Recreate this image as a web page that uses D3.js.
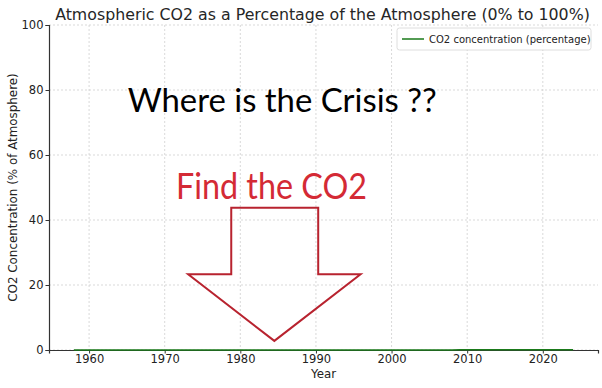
<!DOCTYPE html>
<html>
<head>
<meta charset="utf-8">
<script src="https://cdn.jsdelivr.net/npm/d3@7"></script>
<style>
  html, body { margin: 0; padding: 0; background: #fff; }
  svg { display: block; font-family: "DejaVu Sans", sans-serif; }
</style>
</head>
<body>
<svg id="chart" width="602" height="388"></svg>
<script>
// ---- data ----
const years = [1958,1959,1960,1961,1962,1963,1964,1965,1966,1967,1968,1969,1970,1971,1972,1973,1974,1975,1976,1977,1978,1979,1980,1981,1982,1983,1984,1985,1986,1987,1988,1989,1990,1991,1992,1993,1994,1995,1996,1997,1998,1999,2000,2001,2002,2003,2004,2005,2006,2007,2008,2009,2010,2011,2012,2013,2014,2015,2016,2017,2018,2019,2020,2021,2022,2023,2024];
const co2ppm = [315.2,315.98,316.91,317.64,318.45,318.99,319.62,320.04,321.37,322.18,323.05,324.62,325.68,326.32,327.46,329.68,330.19,331.13,332.03,333.84,335.41,336.84,338.76,340.12,341.48,343.15,344.87,346.35,347.61,349.31,351.69,353.2,354.45,355.7,356.54,357.21,358.96,360.97,362.74,363.88,366.84,368.54,369.71,371.32,373.45,375.98,377.7,379.98,382.09,384.02,385.83,387.64,390.1,391.85,394.06,396.74,398.81,401.01,404.41,406.76,408.72,411.66,414.24,416.45,418.56,421.08,424.6];
const co2Percent = co2ppm.map(v => v / 10000);
const xTicks = [1960,1970,1980,1990,2000,2010,2020];
const yTicks = [0,20,40,60,80,100];
const titleText = "Atmospheric CO2 as a Percentage of the Atmosphere (0% to 100%)";
const xLabel = "Year";
const yLabel = "CO2 Concentration (% of Atmosphere)";
const legendLabel = "CO2 concentration (percentage)";
const annotation1 = "Where is the Crisis ??";
const annotation2 = "Find the CO2";
// arrow outline in data units [year, percent]
const arrowX = [1978.8, 1990.3, 1990.3, 1995.9, 1984.5, 1973.1, 1978.8];
const arrowY = [43.8, 43.8, 23.3, 23.3, 2.8, 23.3, 23.3];
const anno1Pos = [1965.1, 73.3];   // left x, baseline y
const anno2Pos = [1971.5, 46.4];

// ---- layout ----
const svg = d3.select("#chart");
const m = { left: 49, right: 598, top: 25, bottom: 350 };
const span = years[years.length-1] - years[0];
const x = d3.scaleLinear().domain([years[0] - span*0.05, years[years.length-1] + span*0.05]).range([m.left, m.right]);
const y = d3.scaleLinear().domain([0, 100]).range([m.bottom, m.top]);

// grid
svg.append("g").selectAll("line").data(xTicks).join("line")
  .attr("x1", d => x(d)).attr("x2", d => x(d)).attr("y1", m.top).attr("y2", m.bottom)
  .attr("stroke", "#cfcfcf").attr("stroke-width", 0.8).attr("stroke-dasharray", "2,2");
svg.append("g").selectAll("line").data(yTicks).join("line")
  .attr("x1", m.left).attr("x2", m.right).attr("y1", d => y(d)).attr("y2", d => y(d))
  .attr("stroke", "#cfcfcf").attr("stroke-width", 0.8).attr("stroke-dasharray", "2,2");

// axes
const xAxis = svg.append("g").attr("transform", `translate(0,${m.bottom})`)
  .call(d3.axisBottom(x).tickValues(xTicks).tickFormat(d3.format("d")).tickSizeOuter(0).tickSize(3.5).tickPadding(1.5));
const yAxis = svg.append("g").attr("transform", `translate(${m.left},0)`)
  .call(d3.axisLeft(y).tickValues(yTicks).tickSizeOuter(0).tickSize(3.5).tickPadding(2));
[xAxis, yAxis].forEach(a => {
  a.select(".domain").attr("stroke", "#333").attr("stroke-width", 1.2);
  a.selectAll(".tick line").attr("stroke", "#333");
  a.selectAll("text").attr("font-family", "DejaVu Sans, sans-serif").attr("font-size", 11.5).attr("fill", "#222");
});

// line
const line = d3.line().x((d,i) => x(years[i])).y(d => y(d));
svg.append("path").datum(co2Percent).attr("d", line)
  .attr("fill", "none").attr("stroke", "#1a7a1a").attr("stroke-width", 1.5);

// labels
svg.append("text").attr("x", (m.left + m.right)/2 - 1).attr("y", 20).attr("text-anchor", "middle")
  .attr("font-size", 15.8).attr("fill", "#262626").text(titleText);
svg.append("text").attr("x", (m.left + m.right)/2).attr("y", 378).attr("text-anchor", "middle")
  .attr("font-size", 11.8).attr("fill", "#222").text(xLabel);
svg.append("text").attr("transform", `translate(16.5,${(m.top+m.bottom)/2}) rotate(-90)`).attr("text-anchor", "middle")
  .attr("font-size", 11.9).attr("fill", "#222").text(yLabel);

// legend
const lg = svg.append("g");
lg.append("rect").attr("x", 397).attr("y", 28).attr("width", 194).attr("height", 22).attr("rx", 2.5)
  .attr("fill", "#fff").attr("fill-opacity", 0.85).attr("stroke", "#d5d5d5").attr("stroke-width", 0.8);
lg.append("line").attr("x1", 402).attr("x2", 424).attr("y1", 39).attr("y2", 39)
  .attr("stroke", "#1a7a1a").attr("stroke-width", 1.5);
lg.append("text").attr("x", 429).attr("y", 43).attr("font-size", 10).attr("fill", "#222").text(legendLabel);

// annotations
svg.append("text").attr("x", x(anno1Pos[0])).attr("y", y(anno1Pos[1]))
  .style("font-family", "Lato, 'Open Sans', sans-serif").attr("font-size", 32).attr("fill", "#000")
  .attr("textLength", 309).attr("lengthAdjust", "spacingAndGlyphs").text(annotation1);
svg.append("text").attr("x", x(anno2Pos[0])).attr("y", y(anno2Pos[1]))
  .style("font-family", "Lato, 'Open Sans', sans-serif").attr("font-size", 36).attr("fill", "#d42a35")
  .attr("textLength", 191).attr("lengthAdjust", "spacingAndGlyphs").text(annotation2);
svg.append("path")
  .attr("d", d3.line().x(d => x(d[0])).y(d => y(d[1]))(arrowX.map((v,i) => [v, arrowY[i]])) + "Z")
  .attr("fill", "none").attr("stroke", "#b8232f").attr("stroke-width", 2).attr("stroke-linejoin", "miter");
</script>
</body>
</html>
